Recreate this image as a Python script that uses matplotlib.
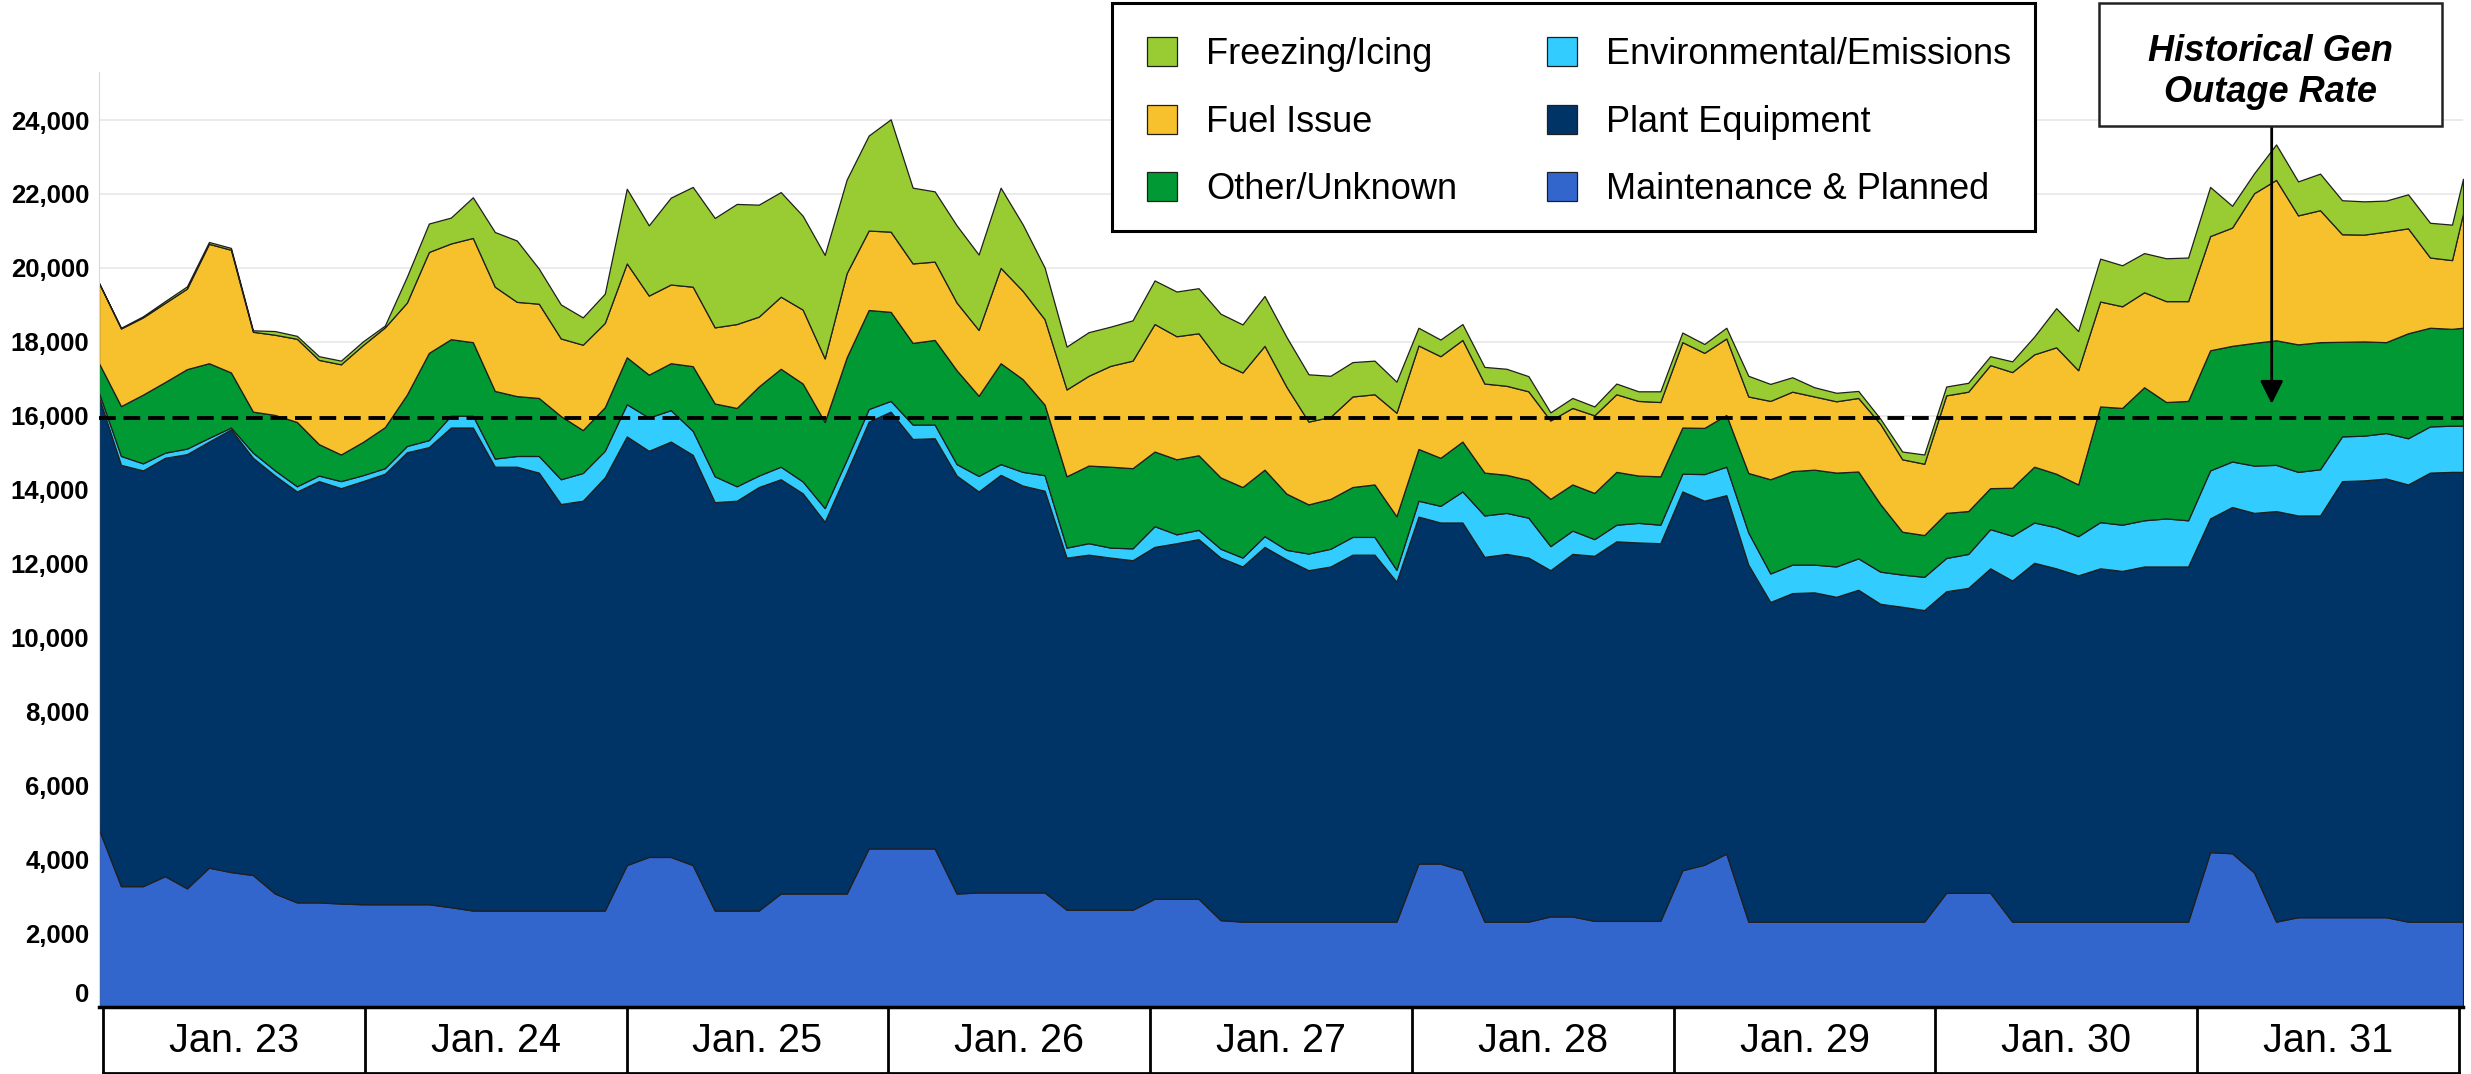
import numpy as np
import matplotlib
matplotlib.use("Agg")
import matplotlib.pyplot as plt
from matplotlib.patches import Rectangle

# hourly index over Jan. 23 - Jan. 31, sampled every 2 hours (+ last hour)
hours = list(range(0, 215, 2)) + [215]
days = ["Jan. 23", "Jan. 24", "Jan. 25", "Jan. 26", "Jan. 27",
        "Jan. 28", "Jan. 29", "Jan. 30", "Jan. 31"]
hist_rate = 15950

# MW out by cause
maint = [4800, 3270, 3270, 3540, 3210, 3770, 3650, 3570, 3070, 2830, 2830, 2800, 2780, 2780, 2780, 2780, 2700, 2610, 2610,
         2610, 2610, 2610, 2610, 2610, 3840, 4060, 4060, 3840, 2610, 2610, 2610, 3070, 3070, 3070, 3070, 4290, 4290,
         4290, 4290, 3070, 3100, 3100, 3100, 3100, 2630, 2630, 2630, 2630, 2930, 2930, 2930, 2350, 2310, 2310, 2310,
         2310, 2310, 2310, 2310, 2310, 3880, 3880, 3700, 2310, 2310, 2310, 2450, 2450, 2330, 2330, 2330, 2330, 3700,
         3850, 4150, 2310, 2310, 2310, 2310, 2310, 2310, 2310, 2310, 2310, 3090, 3090, 3090, 2310, 2310, 2310, 2310,
         2310, 2310, 2310, 2310, 2310, 4190, 4160, 3640, 2310, 2430, 2430, 2430, 2430, 2430, 2310, 2310, 2310, 2310]
plant = [11700, 11400, 11250, 11320, 11750, 11530, 11980, 11290, 11310, 11120, 11400, 11240, 11450, 11650, 12230, 12370, 12980, 13070, 12010,
         12010, 11850, 11000, 11090, 11720, 11600, 10990, 11240, 11100, 11050, 11090, 11460, 11210, 10830, 10060, 11400, 11550, 11820,
         11080, 11100, 11310, 10850, 11300, 11010, 10870, 9530, 9610, 9530, 9460, 9520, 9620, 9730, 9810, 9610, 10140, 9800,
         9510, 9610, 9930, 9930, 9200, 9390, 9230, 9410, 9870, 9950, 9850, 9370, 9810, 9880, 10270, 10240, 10220, 10250,
         9850, 9700, 9660, 8650, 8890, 8910, 8790, 8980, 8600, 8520, 8430, 8160, 8250, 8780, 9230, 9710, 9560, 9370,
         9560, 9490, 9610, 9610, 9610, 9030, 9370, 9730, 11110, 10870, 10870, 11800, 11820, 11870, 11830, 12150, 12170, 12170]
env = [120, 240, 190, 140, 150, 100, 50, 140, 140, 140, 150, 190, 160, 150, 170, 190, 320, 320, 220,
       290, 450, 670, 750, 720, 870, 900, 850, 650, 700, 390, 310, 340, 320, 370, 340, 340, 290,
       390, 370, 310, 420, 290, 370, 420, 270, 310, 270, 320, 560, 240, 250, 240, 240, 290, 260,
       450, 480, 480, 480, 320, 430, 450, 840, 1120, 1110, 1080, 650, 630, 450, 450, 530, 500, 480,
       720, 770, 870, 770, 770, 750, 820, 850, 870, 870, 900, 900, 920, 1060, 1210, 1090, 1110, 1060,
       1250, 1250, 1250, 1300, 1250, 1300, 1230, 1280, 1250, 1180, 1250, 1210, 1210, 1230, 1250, 1250, 1250, 1250]
other = [800, 1350, 1860, 1910, 2150, 2020, 1490, 1110, 1500, 1740, 850, 720, 900, 1110, 1390, 2360, 2070, 1990, 1830,
         1620, 1570, 1710, 1160, 1180, 1270, 1160, 1270, 1750, 1970, 2120, 2410, 2650, 2650, 2330, 2770, 2680, 2410,
         2210, 2290, 2540, 2170, 2730, 2510, 1910, 1930, 2100, 2190, 2170, 2020, 2030, 2020, 1930, 1910, 1800, 1520,
         1330, 1350, 1350, 1420, 1450, 1400, 1300, 1350, 1160, 1030, 1020, 1280, 1250, 1250, 1430, 1280, 1310, 1250,
         1250, 1400, 1610, 2550, 2530, 2570, 2540, 2350, 1830, 1160, 1130, 1220, 1160, 1110, 1300, 1510, 1450, 1400,
         3130, 3160, 3600, 3150, 3230, 3250, 3130, 3320, 3370, 3450, 3440, 2560, 2550, 2460, 2840, 2670, 2620, 2650]
fuel = [2170, 2100, 2090, 2140, 2180, 3230, 3320, 2160, 2170, 2250, 2280, 2440, 2620, 2700, 2490, 2730, 2590, 2820, 2820,
        2550, 2550, 2100, 2310, 2280, 2540, 2140, 2130, 2150, 2060, 2270, 1890, 1950, 2000, 1720, 2280, 2150, 2170,
        2150, 2120, 1830, 1780, 2580, 2390, 2310, 2350, 2430, 2730, 2910, 3450, 3330, 3300, 3110, 3100, 3350, 2890,
        2240, 2220, 2450, 2440, 2800, 2800, 2750, 2750, 2410, 2410, 2400, 2120, 2070, 2100, 2100, 2020, 2010, 2310,
        2030, 2070, 2070, 2120, 2150, 1980, 1930, 1990, 2170, 1960, 1930, 3180, 3230, 3330, 3130, 3040, 3420, 3090,
        2840, 2750, 2570, 2730, 2700, 3090, 3200, 4050, 4340, 3490, 3570, 2910, 2890, 2990, 2840, 1900, 1860, 3090]
freeze = [0, 20, 30, 50, 60, 50, 50, 40, 100, 80, 100, 100, 100, 50, 700, 770, 700, 1100, 1480,
          1660, 950, 920, 740, 790, 2020, 1900, 2350, 2700, 2960, 3250, 3030, 2830, 2540, 2800, 2530, 2570, 3040,
          2050, 1900, 2090, 2040, 2170, 1800, 1400, 1160, 1180, 1060, 1090, 1180, 1210, 1220, 1320, 1300, 1350, 1350,
          1280, 1110, 930, 910, 840, 480, 450, 430, 450, 460, 410, 220, 270, 240, 290, 260, 290, 260,
          240, 290, 560, 460, 390, 250, 230, 190, 140, 210, 250, 240, 240, 240, 290, 480, 1060, 1060,
          1160, 1110, 1060, 1160, 1180, 1330, 590, 540, 960, 920, 990, 920, 900, 840, 920, 940, 960, 940]

labels = ["Maintenance & Planned", "Plant Equipment", "Environmental/Emissions",
          "Other/Unknown", "Fuel Issue", "Freezing/Icing"]
colors = ["#3366CC", "#003366", "#33CCFF", "#009933", "#F6C12C", "#99CC33"]

plt.rcParams["font.family"] = ["Liberation Sans", "DejaVu Sans"]

W, H = 2471, 1074
fig = plt.figure(figsize=(W / 100, H / 100), dpi=100)
ax = fig.add_axes([99 / W, 1 - 1007 / H, (2463 - 99) / W, (1007 - 72) / H])

polys = ax.stackplot(hours, maint, plant, env, other, fuel, freeze,
                     colors=colors, labels=labels, edgecolor="#1f1f1f", linewidth=0.9)
ax.axhline(hist_rate, color="black", lw=2.8, ls=(0, (4.3, 2.0)), zorder=5)

ax.set_xlim(0, 215)
ax.set_ylim(0, 25300)
ax.set_yticks(range(0, 24001, 2000))
ax.set_yticklabels([f"{v:,}" for v in range(0, 24001, 2000)], fontsize=18.5, fontweight="bold")
ax.get_yticklabels()[0].set_va("bottom")
ax.tick_params(axis="y", length=0, pad=7)
ax.set_xticks([])
ax.yaxis.grid(True, color="#e8e8e8", lw=1.2)
ax.set_axisbelow(True)
for s in ["top", "right"]:
    ax.spines[s].set_visible(False)
ax.spines["left"].set_color("#d8d8d8")
ax.spines["bottom"].set_color("black")
ax.spines["bottom"].set_linewidth(2.5)

# date boxes under the axis
edges = np.linspace(0.0017, 0.9983, len(days) + 1)
box_bottom = -66 / 935
for xe in edges:
    ax.plot([xe, xe], [0, box_bottom], transform=ax.transAxes, color="black", lw=2, clip_on=False)
ax.plot([edges[0], edges[-1]], [box_bottom, box_bottom], transform=ax.transAxes,
        color="black", lw=2, clip_on=False)
for i, d in enumerate(days):
    ax.text((edges[i] + edges[i + 1]) / 2, -0.036, d, transform=ax.transAxes,
            ha="center", va="center", fontsize=28.5)

# legend with its own box
fig.patches.append(Rectangle((1112 / W, 1 - 231 / H), (2035 - 1112) / W, 228 / H,
                             transform=fig.transFigure, facecolor="white",
                             edgecolor="black", lw=2.2, zorder=4))
order = [5, 4, 3, 2, 1, 0]
fig.legend([polys[i] for i in order], [labels[i] for i in order], ncol=2,
           loc="upper left", bbox_to_anchor=(1147 / W, 1 - 37 / H),
           frameon=False, fontsize=26, borderpad=0, borderaxespad=0,
           handlelength=0.83, handleheight=0.86, handletextpad=0.8,
           labelspacing=0.9, columnspacing=2.5)

# historical rate callout
fig.patches.append(Rectangle((2099 / W, 1 - 126 / H), (2442 - 2099) / W, 123 / H,
                             transform=fig.transFigure, facecolor="white",
                             edgecolor="#222222", lw=1.8, zorder=4))
fig.text(2270 / W, 1 - 72 / H, "Historical Gen\nOutage Rate", ha="center", va="center",
         fontsize=26, fontweight="bold", fontstyle="italic", linespacing=1.2, zorder=6)
ax.annotate("", xy=(197.6, 16320), xytext=(197.6, 23840),
            arrowprops=dict(arrowstyle="-|>", color="black", lw=2,
                            mutation_scale=35, shrinkA=0, shrinkB=0), zorder=6)

fig.savefig("out.png", dpi=100)
